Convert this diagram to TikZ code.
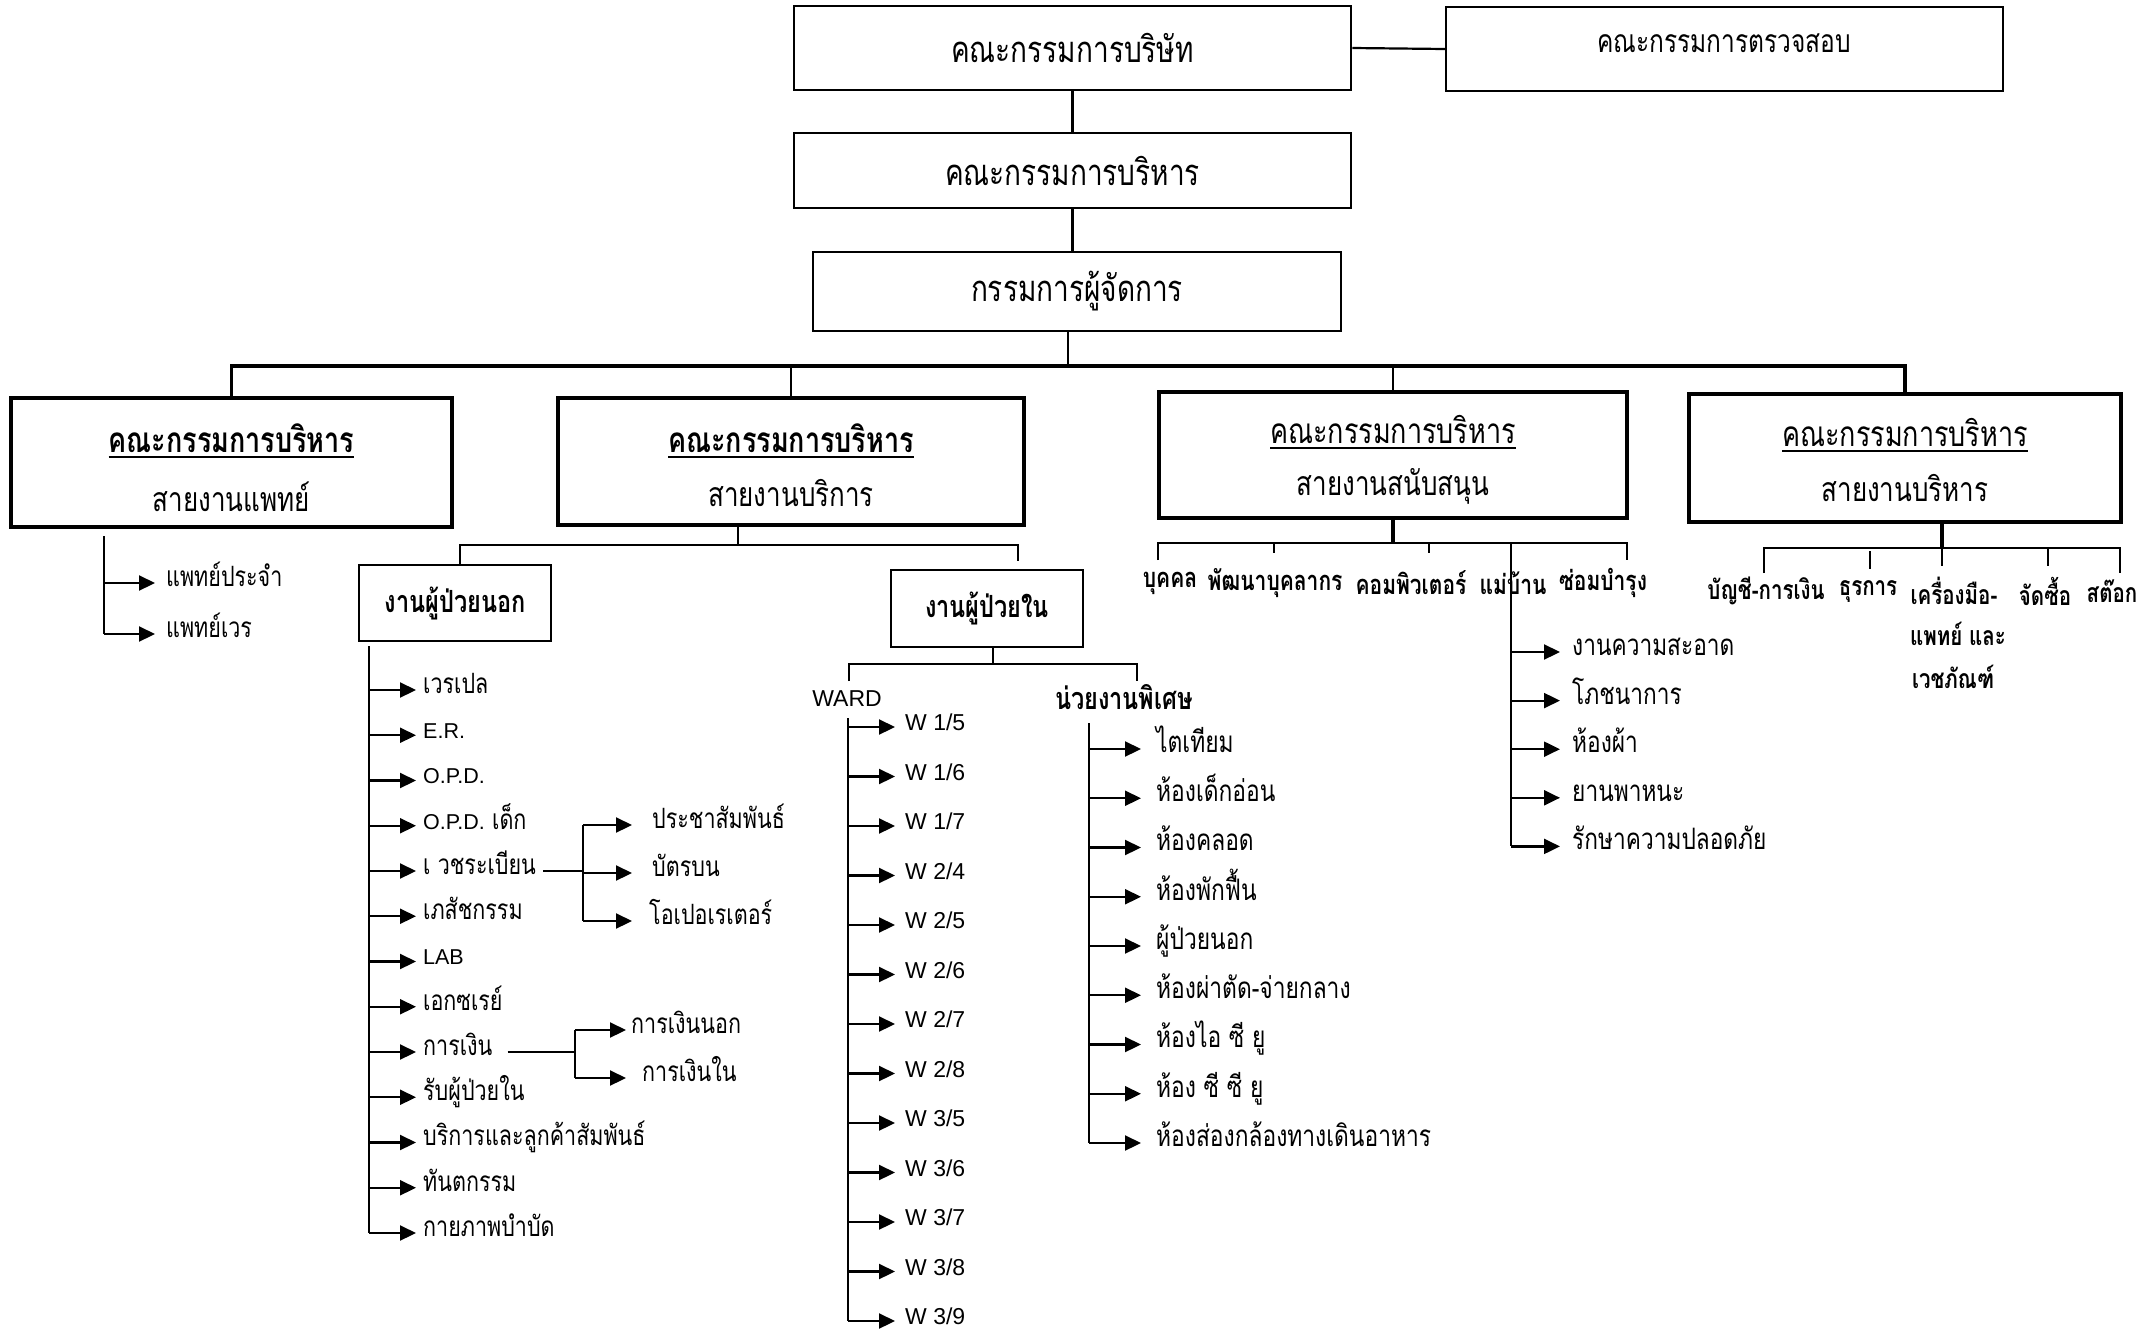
\documentclass[tikz,border=0pt]{standalone}
\usepackage{fontspec}
\usepackage{graphicx}
\setmainfont[Script=Thai]{Loma}
\newfontfamily\lat{Liberation Sans}
\usetikzlibrary{arrows.meta}
\newcommand{\V}[1]{\scalebox{1}[1.3]{#1}}
\newcommand{\ulx}[1]{\setbox0\hbox{#1}\leavevmode\rlap{\rule[-5pt]{\wd0}{2pt}}\box0}
\newcommand\fsBig{\fontsize{28}{34}\selectfont}
\newcommand\fsAudit{\fontsize{24.5}{30}\selectfont}
\newcommand\fsTitle{\fontsize{27}{32}\selectfont}
\newcommand\fsSub{\fontsize{26}{30}\selectfont}
\newcommand\fsList{\fontsize{21.5}{26}\selectfont}
\newcommand\fsSpec{\fontsize{22.8}{26}\selectfont}
\newcommand\fsHouse{\fontsize{22.7}{27}\selectfont}
\newcommand\fsSup{\bfseries\fontsize{21}{25}\selectfont}
\newcommand\fsAdm{\bfseries\fontsize{20.5}{23}\selectfont}
\newcommand\fsBox{\bfseries\fontsize{23.5}{27}\selectfont}
\newcommand\fsW{\lat\fontsize{23}{26}\selectfont}
\begin{document}
\begin{tikzpicture}[x=1pt,y=-1pt,
  bx/.style={draw, line width=2.5pt, inner sep=0pt},
  bxk/.style={draw, line width=3.5pt, inner sep=0pt},
  ln/.style={line width=2.2pt},
  busl/.style={line width=3.5pt},
  arr/.style={line width=2.2pt, -{Triangle[length=16pt,width=15pt]}},
  lbl/.style={anchor=west, inner ysep=0pt, text height=0.8em, text depth=0.12em},
  lblL/.style={anchor=west, inner ysep=0pt, text height=0.72em, text depth=0em},
  txt/.style={inner sep=0pt}
]
\useasboundingbox (0,0) rectangle (2156,1336);
% top boxes
\node[bx, minimum width=557pt, minimum height=84pt, font=\fsBig] (board) at (1072.5,48) {\V{คณะกรรมการบริษัท}};
\node[bx, minimum width=557pt, minimum height=84pt] (audit) at (1724.5,49) {};
\node[txt, font=\fsAudit] (auditT) at (1724,43) {\V{คณะกรรมการตรวจสอบ}};
\node[bx, minimum width=557pt, minimum height=75pt, font=\fsBig] (exec) at (1072.5,170.5) {\V{คณะกรรมการบริหาร}};
\node[bx, minimum width=528pt, minimum height=79pt, font=\fsBig] (md) at (1077,291.5) {\V{กรรมการผู้จัดการ}};
\draw[ln] (board.east) -- (audit.west);
\draw[ln] (board.south) -- (exec.north);
\draw[ln] (exec.south) -- (exec.south |- md.north);
% four divisions
\node[bxk, minimum width=441pt, minimum height=129pt] (boxA) at (231.5,462.5) {};
\node[bxk, minimum width=466pt, minimum height=127pt] (boxB) at (791,461.5) {};
\node[bxk, minimum width=468pt, minimum height=126pt] (boxC) at (1393,455) {};
\node[bxk, minimum width=432pt, minimum height=128pt] (boxD) at (1905,458) {};
\node[txt, font=\bfseries\fsTitle] (boxAt) at (231.5,441) {\ulx{\V{คณะกรรมการบริหาร}}};
\node[txt, font=\fsSub] (boxAs) at (231.5,497) {\V{สายงานแพทย์}};
\node[txt, font=\bfseries\fsTitle] (boxBt) at (791,441) {\ulx{\V{คณะกรรมการบริหาร}}};
\node[txt, font=\fsSub] (boxBs) at (791,493) {\V{สายงานบริการ}};
\node[txt, font=\fsTitle] (boxCt) at (1393,432) {\ulx{\V{คณะกรรมการบริหาร}}};
\node[txt, font=\fsSub] (boxCs) at (1393,486) {\V{สายงานสนับสนุน}};
\node[txt, font=\fsTitle] (boxDt) at (1905,435) {\ulx{\V{คณะกรรมการบริหาร}}};
\node[txt, font=\fsSub] (boxDs) at (1905,488) {\V{สายงานบริหาร}};
\coordinate (bus) at (1068,366);
\draw[ln] ([xshift=-9pt]md.south) -- ([xshift=-9pt]md.south |- bus);
\draw[busl] (boxA.north) -- (boxA.north |- bus) -- (boxD.north |- bus) -- (boxD.north);
\draw[ln] (boxB.north |- bus) -- (boxB.north);
\draw[ln] (boxC.north |- bus) -- (boxC.north);
% medical branch
\coordinate (docTop) at (104,536);
\node[lbl, font=\fsList, inner xsep=11pt] (doc1) at (155,583) {\V{แพทย์ประจำ}};
\node[lbl, font=\fsList, inner xsep=11pt] (doc2) at (155,634) {\V{แพทย์เวร}};
\draw[ln] (docTop) -- (docTop |- doc2.west);
\draw[arr] (docTop |- doc1.west) -- (doc1.west);
\draw[arr] (docTop |- doc2.west) -- (doc2.west);
% service branch
\node[bx, minimum width=192pt, minimum height=76pt, font=\fsBox] (opdbox) at (455,603) {\V{งานผู้ป่วยนอก}};
\node[bx, minimum width=192pt, minimum height=77pt, font=\fsBox] (ipdbox) at (987,608.5) {\V{งานผู้ป่วยใน}};
\coordinate (bBus) at (738,545);
\coordinate (bL) at (460,545);
\coordinate (bR) at (1018,545);
\draw[ln] (boxB.south -| bBus) -- (bBus);
\draw[ln] (bL |- opdbox.north) -- (bL) -- (bR) -- ([yshift=8pt]bR |- ipdbox.north);
% OPD list
\coordinate (opdtop) at (369,646);
\foreach \t [count=\i from 0] in {\V{เวรเปล},{\lat E.R.},{\lat O.P.D.},{\lat O.P.D.} \V{เด็ก},\V{เ วชระเบียน},\V{เภสัชกรรม},{\lat LAB},\V{เอกซเรย์},\V{การเงิน},\V{รับผู้ป่วยใน},\V{บริการและลูกค้าสัมพันธ์},\V{ทันตกรรม},\V{กายภาพบำบัด}}
{
  \node[lbl, font=\fsList, inner xsep=7pt] (opd\i) at (416,690+45.25*\i) {\t};
  \draw[arr] (opdtop |- opd\i.west) -- (opd\i.west);
}
\draw[ln] (opdtop) -- (opdtop |- opd12.west);
% medical records sub-branch
\coordinate (vj) at (583,871);
\node[lbl, font=\fsList, inner xsep=20pt] (pr1) at (632,825) {\V{ประชาสัมพันธ์}};
\node[lbl, font=\fsList, inner xsep=20pt] (pr2) at (632,873) {\V{บัตรบน}};
\node[lbl, font=\fsList, inner xsep=17pt] (pr3) at (632,921) {\V{โอเปอเรเตอร์}};
\draw[ln] (opd4.east) -- (vj |- opd4.east);
\draw[ln] (vj |- pr1.west) -- (vj |- pr3.west);
\foreach \k in {1,2,3} {\draw[arr] (vj |- pr\k.west) -- (pr\k.west);}
% finance sub-branch
\coordinate (fj) at (575,1052);
\node[lbl, font=\fsList, inner xsep=5pt] (fin1) at (626,1030) {\V{การเงินนอก}};
\node[lbl, font=\fsList, inner xsep=16pt] (fin2) at (626,1078) {\V{การเงินใน}};
\draw[ln] ([xshift=8pt]opd8.east) -- (fj |- opd8.east);
\draw[ln] (fj |- fin1.west) -- (fj |- fin2.west);
\foreach \k in {1,2} {\draw[arr] (fj |- fin\k.west) -- (fin\k.west);}
% IPD
\coordinate (iBus) at (993,664);
\coordinate (iL) at (849,681);
\coordinate (iR) at (1137,681);
\node[txt, font=\fsW] (ward) at (847,699) {WARD};
\node[txt, font=\fsBox] (spec) at (1124,697) {\V{น่วยงานพิเศษ}};
\draw[ln] (ipdbox.south -| iBus) -- (iBus);
\draw[ln] (iL) -- (iL |- iBus) -- (iR |- iBus) -- (iR);
\coordinate (wtop) at (848,718);
\foreach \t [count=\i from 0] in {W 1/5,W 1/6,W 1/7,W 2/4,W 2/5,W 2/6,W 2/7,W 2/8,W 3/5,W 3/6,W 3/7,W 3/8,W 3/9}
{
  \node[lblL, font=\fsW, inner xsep=10pt] (w\i) at (895,727+49.5*\i) {\t};
  \draw[arr] (wtop |- w\i.west) -- (w\i.west);
}
\draw[ln] (wtop) -- (wtop |- w12.west);
\coordinate (stop) at (1089,723);
\foreach \t [count=\i from 0] in {ไตเทียม,ห้องเด็กอ่อน,ห้องคลอด,ห้องพักฟื้น,ผู้ป่วยนอก,ห้องผ่าตัด-จ่ายกลาง,ห้องไอ ซี ยู,ห้อง ซี ซี ยู,ห้องส่องกล้องทางเดินอาหาร}
{
  \node[lbl, font=\fsSpec, inner xsep=15pt] (s\i) at (1141,749+49.25*\i) {\V{\t}};
  \draw[arr] (stop |- s\i.west) -- (s\i.west);
}
\draw[ln] (stop) -- (stop |- s8.west);
% support branch
\coordinate (cBus) at (1393,543);
\draw[busl] (boxC.south) -- (cBus);
\node[txt, font=\fsSup] (sup1) at (1170,583) {\V{บุคคล}};
\node[txt, font=\fsSup] (sup2) at (1275,583) {\V{พัฒนาบุคลากร}};
\node[txt, font=\fsSup] (sup3) at (1411,583) {\V{คอมพิวเตอร์}};
\node[txt, font=\fsSup] (sup4) at (1513,583) {\V{แม่บ้าน}};
\node[txt, font=\fsSup] (sup5) at (1603,583) {\V{ซ่อมบำรุง}};
\coordinate (c1) at (1158,560);
\coordinate (c2) at (1274,553);
\coordinate (c3) at (1429,553);
\coordinate (c4) at (1511,553);
\coordinate (c5) at (1627,560);
\draw[ln] (c1) -- (c1 |- cBus) -- (c5 |- cBus) -- (c5);
\draw[ln] (c2 |- cBus) -- (c2);
\draw[ln] (c3 |- cBus) -- (c3);
\foreach \t [count=\i from 0] in {งานความสะอาด,โภชนาการ,ห้องผ้า,ยานพาหนะ,รักษาความปลอดภัย}
{
  \node[lbl, font=\fsHouse, inner xsep=12pt] (h\i) at (1560,652+48.6*\i) {\V{\t}};
  \draw[arr] (c4 |- h\i.west) -- (h\i.west);
}
\draw[ln] (c4 |- cBus) -- (c4 |- h4.west);
% admin branch
\coordinate (dBus) at (1942,548);
\draw[busl] (boxD.south -| dBus) -- (dBus);
\node[txt, font=\fsAdm] (adm1) at (1766,591) {\V{บัญชี-การเงิน}};
\node[txt, font=\fsAdm] (adm2) at (1868,591) {\V{ธุรการ}};
\node[txt, font=\fsAdm] (adm3) at (1954,591) {\V{เครื่องมือ-}};
\node[txt, font=\fsAdm] (adm3b) at (1958,634) {\V{แพทย์ และ}};
\node[txt, font=\fsAdm] (adm3c) at (1953,677) {\V{เวชภัณฑ์}};
\node[txt, font=\fsAdm] (adm4) at (2045,591) {\V{จัดซื้อ}};
\node[txt, font=\fsAdm] (adm5) at (2112,591) {\V{สต๊อก}};
\coordinate (d1) at (1764,573);
\coordinate (d2) at (1870,569);
\coordinate (d3) at (1942,566);
\coordinate (d4) at (2048,566);
\coordinate (d5) at (2120,573);
\draw[ln] (d1) -- (d1 |- dBus) -- (d5 |- dBus) -- (d5);
\draw[ln] ([yshift=-3pt]d2 |- dBus) -- (d2);
\draw[ln] (d3 |- dBus) -- (d3);
\draw[ln] (d4 |- dBus) -- (d4);
\end{tikzpicture}
\end{document}
